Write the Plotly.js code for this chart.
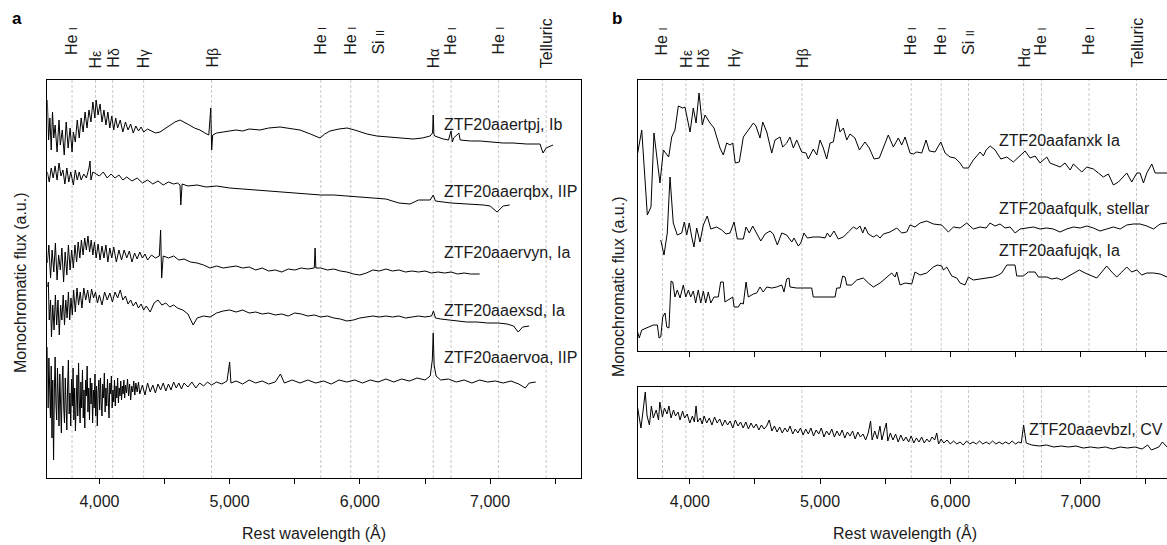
<!DOCTYPE html>
<html><head><meta charset="utf-8">
<script src="https://cdn.plot.ly/plotly-3.0.1.min.js"></script>
<style>html,body{margin:0;padding:0;overflow:hidden;background:#fff}#chart{width:1175px;height:545px}</style>
</head><body><div id="chart"></div>
<script>
// ---------- Panel a spectra (rest wavelength in Å, flux in arbitrary offset units) ----------
const aIbWl = [3600,3610,3620,3630,3640,3650,3660,3675,3690,3700,3715,3730,3745,3760,3775,3790,3800,3815,3830,3845,3860,3875,3890,3905,3920,3935,3950,3965,3975,3990,4005,4020,4035,4050,4065,4080,4095,4110,4125,4140,4160,4180,4200,4220,4240,4260,4280,4300,4320,4340,4370,4400,4430,4465,4500,4540,4580,4619,4650,4690,4730,4772,4810,4840,4855,4862,4870,4900,4950,5003,5050,5100,5150,5233,5300,5387,5450,5540,5620,5694,5730,5771,5840,5902,5960,6000,6055,6130,6232,6300,6408,6480,6539,6558,6563,6568,6575,6640,6680,6700,6710,6720,6760,6770,6850,6923,7000,7100,7176,7280,7383,7395,7406,7430,7483];
const aIbFlux = [378,338,360,328,366,340,353,326,358,333,348,323,356,330,350,326,346,336,358,340,360,346,366,350,368,356,376,360,378,363,374,356,368,353,366,350,362,348,360,350,358,346,356,348,354,345,352,347,351,346,349,347,345,346,349,352,356,358,356,353,350,348,345,343,370,328,343,345,346,347,348,347,349,348,350,351,350,348,344,340,344,347,349,350,348,346,344,342,341,340,339,340,342,345,363,344,342,339,338,347,336,340,345,338,337,337,336,335,335,334,334,328,325,330,333];

const aQbxWl = [3600,3615,3630,3645,3660,3675,3690,3705,3720,3735,3750,3765,3780,3800,3815,3830,3845,3860,3880,3900,3920,3928,3935,3950,4000,4030,4060,4090,4120,4150,4180,4210,4250,4290,4330,4370,4410,4450,4490,4530,4570,4600,4619,4625,4635,4680,4750,4820,4900,5000,5100,5200,5300,5400,5500,5600,5700,5800,5900,6000,6100,6200,6300,6385,6450,6540,6563,6580,6700,6850,6950,7000,7053,7100,7150];
const aQbxFlux = [306,296,310,300,312,298,315,302,308,294,310,296,306,293,308,298,306,298,304,300,310,317,298,306,302,306,300,304,300,303,298,301,297,300,295,298,294,297,293,296,294,295,293,273,294,292,293,291,292,290,289,288,287,286,285,284,283,283,282,281,280,279,275,274,278,278,283,277,275,274,273,272,266,272,273];

const aVynWl = [3600,3612,3625,3637,3650,3662,3675,3687,3700,3712,3725,3737,3750,3762,3775,3787,3800,3812,3825,3837,3850,3862,3875,3887,3900,3912,3925,3937,3950,3962,3975,3990,4005,4020,4035,4050,4065,4080,4095,4110,4130,4150,4170,4190,4210,4230,4250,4270,4290,4310,4330,4350,4370,4400,4430,4460,4470,4478,4490,4530,4570,4610,4650,4700,4750,4800,4850,4900,4950,5000,5050,5100,5150,5200,5250,5300,5350,5400,5450,5500,5550,5600,5650,5656,5662,5700,5750,5800,5850,5900,5950,6000,6050,6100,6150,6200,6250,6300,6350,6400,6450,6500,6550,6600,6650,6700,6750,6800,6850,6920];
const aVynFlux = [215,233,200,228,206,235,198,223,208,230,196,226,203,233,208,228,210,233,216,236,220,238,223,240,228,242,226,238,223,236,220,234,218,232,220,233,216,230,220,231,216,228,218,228,220,227,216,225,219,226,220,224,218,223,220,222,248,200,222,220,222,218,219,216,215,213,210,212,210,211,212,210,211,208,210,207,208,206,209,208,210,209,210,230,210,210,208,209,207,206,204,203,205,208,207,209,207,208,206,207,206,207,205,206,205,206,204,205,204,204];

const aExsdWl = [3600,3608,3615,3625,3632,3642,3652,3662,3672,3682,3692,3702,3712,3722,3732,3742,3752,3762,3772,3782,3792,3802,3815,3828,3840,3853,3866,3880,3895,3910,3925,3940,3955,3970,3985,4000,4020,4040,4060,4080,4100,4120,4140,4160,4180,4200,4220,4240,4260,4280,4300,4320,4340,4360,4390,4420,4450,4480,4510,4540,4570,4600,4640,4680,4720,4750,4800,4850,4900,4950,5000,5050,5100,5150,5200,5250,5300,5350,5400,5450,5500,5550,5600,5650,5700,5750,5800,5850,5900,5950,6000,6050,6100,6150,6200,6250,6300,6350,6400,6450,6500,6550,6565,6580,6620,6680,6750,6820,6900,6980,7060,7130,7180,7215,7250,7300];
const aExsdFlux = [191,196,158,178,141,173,148,183,153,178,143,173,158,183,153,178,160,186,158,180,163,188,166,190,173,186,170,190,178,188,175,189,180,186,175,183,173,186,178,185,176,186,180,188,178,182,174,178,172,176,170,174,168,172,166,175,178,173,175,171,173,170,168,164,153,160,162,161,165,167,168,166,168,165,166,164,165,163,164,162,165,164,162,163,161,162,160,159,157,158,160,161,162,161,162,161,162,160,161,162,161,162,167,160,159,158,157,156,156,155,155,154,152,146,151,152];

const aVoaWl = [3600,3606,3612,3618,3624,3630,3636,3642,3648,3654,3660,3666,3672,3678,3684,3690,3696,3702,3708,3714,3720,3726,3732,3738,3744,3750,3756,3762,3768,3774,3780,3786,3792,3798,3804,3810,3816,3822,3828,3834,3840,3846,3852,3858,3864,3870,3876,3882,3888,3894,3900,3906,3912,3918,3924,3930,3936,3942,3948,3954,3960,3966,3972,3978,3984,3990,3996,4002,4008,4014,4020,4026,4032,4038,4044,4050,4056,4062,4068,4074,4080,4086,4092,4098,4104,4110,4116,4122,4128,4134,4140,4146,4152,4158,4164,4170,4176,4182,4188,4194,4200,4208,4216,4224,4232,4240,4248,4256,4264,4272,4280,4290,4300,4310,4330,4350,4370,4390,4410,4430,4450,4470,4490,4510,4530,4550,4570,4590,4610,4630,4650,4680,4710,4740,4770,4800,4830,4860,4900,4940,4980,5000,5010,5050,5100,5150,5200,5250,5300,5350,5390,5420,5480,5540,5600,5660,5720,5780,5840,5900,5960,6020,6080,6140,6200,6260,6320,6380,6440,6500,6540,6556,6563,6570,6585,6620,6680,6740,6800,6860,6920,6980,7040,7100,7160,7220,7270,7300,7350];
const aVoaFlux = [131,70,120,95,60,112,40,98,18,85,121,75,58,110,88,52,104,66,45,96,112,70,55,100,80,48,92,118,64,85,52,99,72,110,58,90,47,84,103,62,115,77,55,96,70,108,60,88,50,98,82,112,66,90,58,100,74,95,55,88,70,104,62,92,52,86,98,68,100,75,62,94,80,105,66,90,72,99,78,60,95,84,102,70,88,76,98,72,92,80,100,75,90,82,97,78,92,84,98,80,93,85,99,82,94,78,92,86,97,83,95,86,96,84,93,83,95,86,93,85,94,88,95,87,94,88,96,90,95,89,95,91,96,90,95,92,96,93,96,94,97,116,95,97,94,98,95,97,94,96,104,95,98,95,98,95,97,94,98,96,98,95,98,96,99,96,99,97,100,98,102,118,145,113,102,98,99,96,98,95,98,96,97,95,97,94,90,95,96];

// ---------- Panel b spectra ----------
const bFanxkWl = [3600,3631,3674,3702,3725,3771,3797,3838,3861,3886,3912,3946,3963,4002,4027,4048,4071,4096,4117,4155,4186,4207,4232,4257,4283,4309,4330,4349,4380,4411,4449,4488,4508,4539,4560,4591,4629,4654,4693,4713,4744,4769,4795,4821,4859,4892,4910,4948,4975,5000,5025,5051,5077,5102,5133,5153,5179,5205,5230,5268,5302,5345,5378,5415,5455,5486,5524,5563,5601,5627,5653,5691,5716,5742,5781,5814,5839,5883,5927,5960,5998,6037,6075,6100,6139,6177,6203,6229,6254,6275,6306,6344,6388,6434,6484,6536,6574,6613,6651,6689,6741,6766,6805,6843,6881,6920,6945,6971,7010,7048,7099,7137,7175,7214,7252,7291,7324,7355,7393,7432,7457,7483,7509,7547,7573,7611,7665];
const bFanxkFlux = [198,221,136,144,218,168,201,194,214,221,245,243,244,219,243,228,258,226,236,228,223,214,203,196,208,206,208,188,189,214,221,228,225,213,229,219,198,211,214,204,208,214,203,211,199,198,192,202,196,211,203,192,208,209,232,219,223,211,217,213,201,209,203,192,193,204,216,204,213,206,214,198,197,199,198,211,200,199,209,198,194,193,188,183,183,191,195,199,195,201,205,201,192,194,189,195,200,193,195,188,194,188,186,184,188,181,187,184,179,184,182,178,174,177,166,169,174,178,169,178,178,168,178,187,178,178,178];

const bFqulkWl = [3777,3802,3827,3848,3873,3904,3938,3958,3976,3996,4015,4032,4053,4078,4104,4134,4161,4207,4245,4278,4309,4340,4365,4411,4432,4457,4483,4514,4545,4578,4616,4641,4672,4706,4744,4783,4800,4833,4852,4877,4902,4948,5000,5038,5056,5077,5107,5140,5179,5217,5256,5282,5307,5328,5345,5371,5409,5435,5461,5486,5537,5589,5627,5666,5691,5729,5768,5819,5870,5934,5985,6024,6075,6126,6177,6229,6275,6305,6344,6382,6421,6459,6498,6536,6587,6638,6689,6741,6791,6843,6894,6945,6997,7048,7099,7150,7201,7252,7304,7355,7406,7457,7509,7560,7611,7665];
const bFqulkFlux = [111,96,118,174,128,116,118,129,116,128,114,104,123,109,126,135,122,124,121,117,118,129,112,112,124,118,125,117,110,117,120,117,106,118,116,109,113,105,108,118,113,114,114,113,118,114,120,112,114,119,124,122,125,118,124,117,114,116,113,117,119,123,118,119,126,124,128,130,127,126,119,124,123,128,122,124,123,128,125,127,123,124,118,122,123,124,122,123,122,119,122,124,123,125,123,120,122,124,122,126,127,127,125,122,127,128];

const bFujqkWl = [3600,3612,3631,3681,3720,3751,3764,3777,3792,3810,3823,3840,3856,3869,3886,3904,3925,3950,3969,3989,4007,4027,4045,4065,4084,4104,4122,4142,4161,4186,4219,4237,4257,4270,4296,4330,4340,4373,4391,4411,4432,4449,4488,4514,4539,4564,4591,4629,4667,4706,4723,4744,4762,4769,4821,4936,4948,5025,5115,5128,5153,5174,5192,5205,5243,5282,5332,5371,5409,5461,5499,5550,5576,5589,5614,5653,5704,5729,5768,5819,5870,5901,5934,5947,5973,6011,6050,6075,6113,6139,6177,6229,6280,6331,6369,6395,6434,6497,6510,6561,6599,6651,6676,6741,6779,6818,6856,6894,6945,6991,7035,7086,7125,7163,7201,7240,7278,7317,7355,7393,7432,7470,7509,7560,7611,7665];
const bFujqkFlux = [19,13,21,24,26,26,13,14,34,38,24,23,70,69,54,61,53,66,54,61,54,60,48,61,48,60,48,59,48,54,54,69,69,49,51,54,44,44,48,47,69,54,57,58,64,59,64,63,64,66,59,72,73,64,63,63,54,54,54,63,63,75,74,66,66,71,73,68,64,68,72,78,74,79,66,68,67,79,76,78,84,86,85,81,84,75,73,68,66,74,71,72,73,74,76,78,86,86,75,75,79,79,74,74,72,73,71,74,78,81,78,75,73,79,85,79,74,79,84,79,81,76,78,78,77,74];

const bEvbzlWl = [3600,3625,3640,3658,3672,3690,3705,3720,3742,3760,3770,3790,3805,3825,3840,3856,3875,3890,3910,3925,3945,3960,3980,4000,4020,4035,4048,4060,4080,4095,4110,4130,4150,4170,4190,4210,4230,4250,4270,4290,4310,4330,4350,4370,4390,4410,4430,4450,4470,4490,4510,4530,4550,4570,4590,4610,4630,4650,4670,4690,4710,4730,4750,4770,4790,4810,4830,4850,4870,4890,4910,4930,4950,4970,4990,5010,5030,5050,5070,5090,5110,5130,5150,5170,5190,5210,5230,5250,5270,5290,5310,5330,5350,5370,5388,5400,5420,5440,5460,5475,5494,5509,5520,5540,5560,5580,5600,5620,5640,5660,5680,5700,5720,5740,5760,5780,5800,5820,5840,5860,5880,5896,5910,5930,5950,5975,6000,6025,6050,6075,6100,6125,6150,6175,6200,6225,6250,6275,6300,6325,6350,6375,6400,6425,6450,6475,6500,6525,6545,6563,6583,6626,6682,6738,6795,6851,6908,6965,7021,7078,7135,7191,7248,7304,7360,7417,7473,7515,7544,7601,7629,7665];
const bEvbzlFlux = [70,50,66,86,62,53,72,60,68,58,76,61,70,64,72,60,68,62,66,58,67,60,64,55,62,56,72,56,60,54,62,55,60,53,61,55,59,52,58,53,57,50,58,52,56,50,56,49,55,50,54,48,53,49,52,58,47,52,46,51,45,50,46,52,44,49,45,50,43,49,44,50,42,48,44,50,41,47,43,49,41,47,42,48,40,46,42,47,39,46,41,44,38,45,57,38,47,39,52,38,48,55,37,45,38,44,36,43,37,41,36,42,35,40,36,41,35,39,36,41,38,45,34,39,35,38,34,37,34,36,33,37,34,36,34,37,34,36,34,37,34,36,34,36,34,37,34,36,35,53,35,33,32,33,31,32,31,32,30,31,30,31,29,31,30,31,29,33,28,31,36,31];

// ---------- Line identifications and labels ----------
const lineWl = [3790,3970,4102,4340,4861,5700,5930,6140,6563,6700,7065,7430];
const lineNames = ['He I','Hε','Hδ','Hγ','Hβ','He I','He I','Si II','Hα','He I','He I','Telluric'];
const tickVals = [4000,4500,5000,5500,6000,6500,7000,7500];
const tickText = ['4,000','','5,000','','6,000','','7,000',''];

const aLabels = ['ZTF20aaertpj, Ib','ZTF20aaerqbx, IIP','ZTF20aaervyn, Ia','ZTF20aaexsd, Ia','ZTF20aaervoa, IIP'];
const bLabels = ['ZTF20aafanxk Ia','ZTF20aafqulk, stellar','ZTF20aafujqk, Ia','ZTF20aaevbzl, CV'];

// ---------- Build figure ----------
const W = 1175, H = 545;
const px = x => x / W;
const py = y => 1 - y / H;
const FONT = '"Liberation Sans", Arial, Helvetica, sans-serif';

function tr(x, y, xa, ya) {
  return {x: x, y: y, type: 'scatter', mode: 'lines', xaxis: xa, yaxis: ya,
          line: {color: '#000', width: 1}, hoverinfo: 'skip'};
}
const data = [
  tr(aIbWl, aIbFlux, 'x', 'y'),
  tr(aQbxWl, aQbxFlux, 'x', 'y'),
  tr(aVynWl, aVynFlux, 'x', 'y'),
  tr(aExsdWl, aExsdFlux, 'x', 'y'),
  tr(aVoaWl, aVoaFlux, 'x', 'y'),
  tr(bFanxkWl, bFanxkFlux, 'x2', 'y2'),
  tr(bFqulkWl, bFqulkFlux, 'x2', 'y2'),
  tr(bFujqkWl, bFujqkFlux, 'x2', 'y2'),
  tr(bEvbzlWl, bEvbzlFlux, 'x3', 'y3')
];

const xBase = {
  range: [3600, 7700], showline: true, mirror: true, linecolor: '#000', linewidth: 1,
  ticks: 'outside', ticklen: 5, tickwidth: 1, tickcolor: '#000',
  tickvals: tickVals, ticktext: tickText, showgrid: false, zeroline: false,
  tickfont: {size: 16, color: '#1a1a1a', family: FONT}, ticklabelstandoff: 4
};
const yBase = {
  showline: true, mirror: true, linecolor: '#000', linewidth: 1, ticks: '',
  showticklabels: false, showgrid: false, zeroline: false
};

const layout = {
  width: W, height: H, margin: {l: 0, r: 0, t: 0, b: 0},
  paper_bgcolor: '#fff', plot_bgcolor: 'rgba(0,0,0,0)', showlegend: false,
  font: {family: FONT, size: 16, color: '#1a1a1a'},
  xaxis: Object.assign({}, xBase, {domain: [px(47.3), px(581.3)], anchor: 'y'}),
  yaxis: Object.assign({}, yBase, {domain: [py(478), py(80)], range: [0, 398], anchor: 'x'}),
  xaxis2: Object.assign({}, xBase, {domain: [px(637.7), px(1171.7)], anchor: 'y2', showticklabels: false}),
  yaxis2: Object.assign({}, yBase, {domain: [py(351), py(80)], range: [0, 271], anchor: 'x2'}),
  xaxis3: Object.assign({}, xBase, {domain: [px(637.7), px(1171.7)], anchor: 'y3'}),
  yaxis3: Object.assign({}, yBase, {domain: [py(478), py(387)], range: [0, 91], anchor: 'x3'}),
  shapes: [], annotations: []
};

function fmtName(n) {
  if (n.startsWith('He ')) return 'He <span style="font-size:11px">I</span>';
  if (n.startsWith('Si ')) return 'Si <span style="font-size:11px">II</span>';
  if (n === 'Telluric') return n;
  return 'H<span style="font-size:14px">' + n.slice(1) + '</span>';
}
function isHigh(n) { return n.startsWith('He ') || n.startsWith('Si '); }

const dashLine = {color: '#c8c8c8', width: 1, dash: '3px,2px'};
[['x', 80, 478], ['x2', 80, 351], ['x3', 387, 478]].forEach(([xr, top, bot]) => {
  lineWl.forEach(w => layout.shapes.push({type: 'line', xref: xr, yref: 'paper', x0: w, x1: w,
    y0: py(bot), y1: py(top), line: dashLine, layer: 'below'}));
});
['x', 'x2'].forEach(xr => {
  lineWl.forEach((w, i) => {
    const n = lineNames[i];
    layout.annotations.push({xref: xr, yref: 'paper', x: w, y: py(isHigh(n) ? 57 : 70),
      text: fmtName(n), textangle: -90, showarrow: false, xanchor: 'center', yanchor: 'bottom',
      font: {size: 16, color: '#1a1a1a'}});
  });
});

const aLabY = [124, 191.5, 252, 310, 357];
aLabels.forEach((t, i) => layout.annotations.push({xref: 'paper', yref: 'paper', x: px(442), y: py(aLabY[i]),
  text: t, showarrow: false, xanchor: 'left', yanchor: 'middle', font: {size: 16, color: '#1a1a1a'}}));
const bLabX = [996.7, 996.7, 996.7, 1165];
const bLabAnchor = ['left', 'left', 'left', 'right'];
const bLabY = [140, 208.3, 250, 429];
bLabels.forEach((t, i) => layout.annotations.push({xref: 'paper', yref: 'paper', x: px(bLabX[i]), y: py(bLabY[i]),
  text: t, showarrow: false, xanchor: bLabAnchor[i], yanchor: 'middle', font: {size: 16, color: '#1a1a1a'}}));

function txt(t, x, y, opts) {
  layout.annotations.push(Object.assign({xref: 'paper', yref: 'paper', x: px(x), y: py(y), text: t,
    showarrow: false, xanchor: 'center', yanchor: 'middle', font: {size: 16, color: '#1a1a1a'}}, opts || {}));
}
txt('Rest wavelength (Å)', 314.3, 533);
txt('Rest wavelength (Å)', 904.7, 533);
txt('Monochromatic flux (a.u.)', 20, 283, {textangle: -90});
txt('Monochromatic flux (a.u.)', 618, 287, {textangle: -90});
txt('<b>a</b>', 17, 18, {font: {size: 17, color: '#000'}});
txt('<b>b</b>', 617, 18, {font: {size: 17, color: '#000'}});

Plotly.newPlot('chart', data, layout, {displayModeBar: false, staticPlot: true});
</script></body></html>
